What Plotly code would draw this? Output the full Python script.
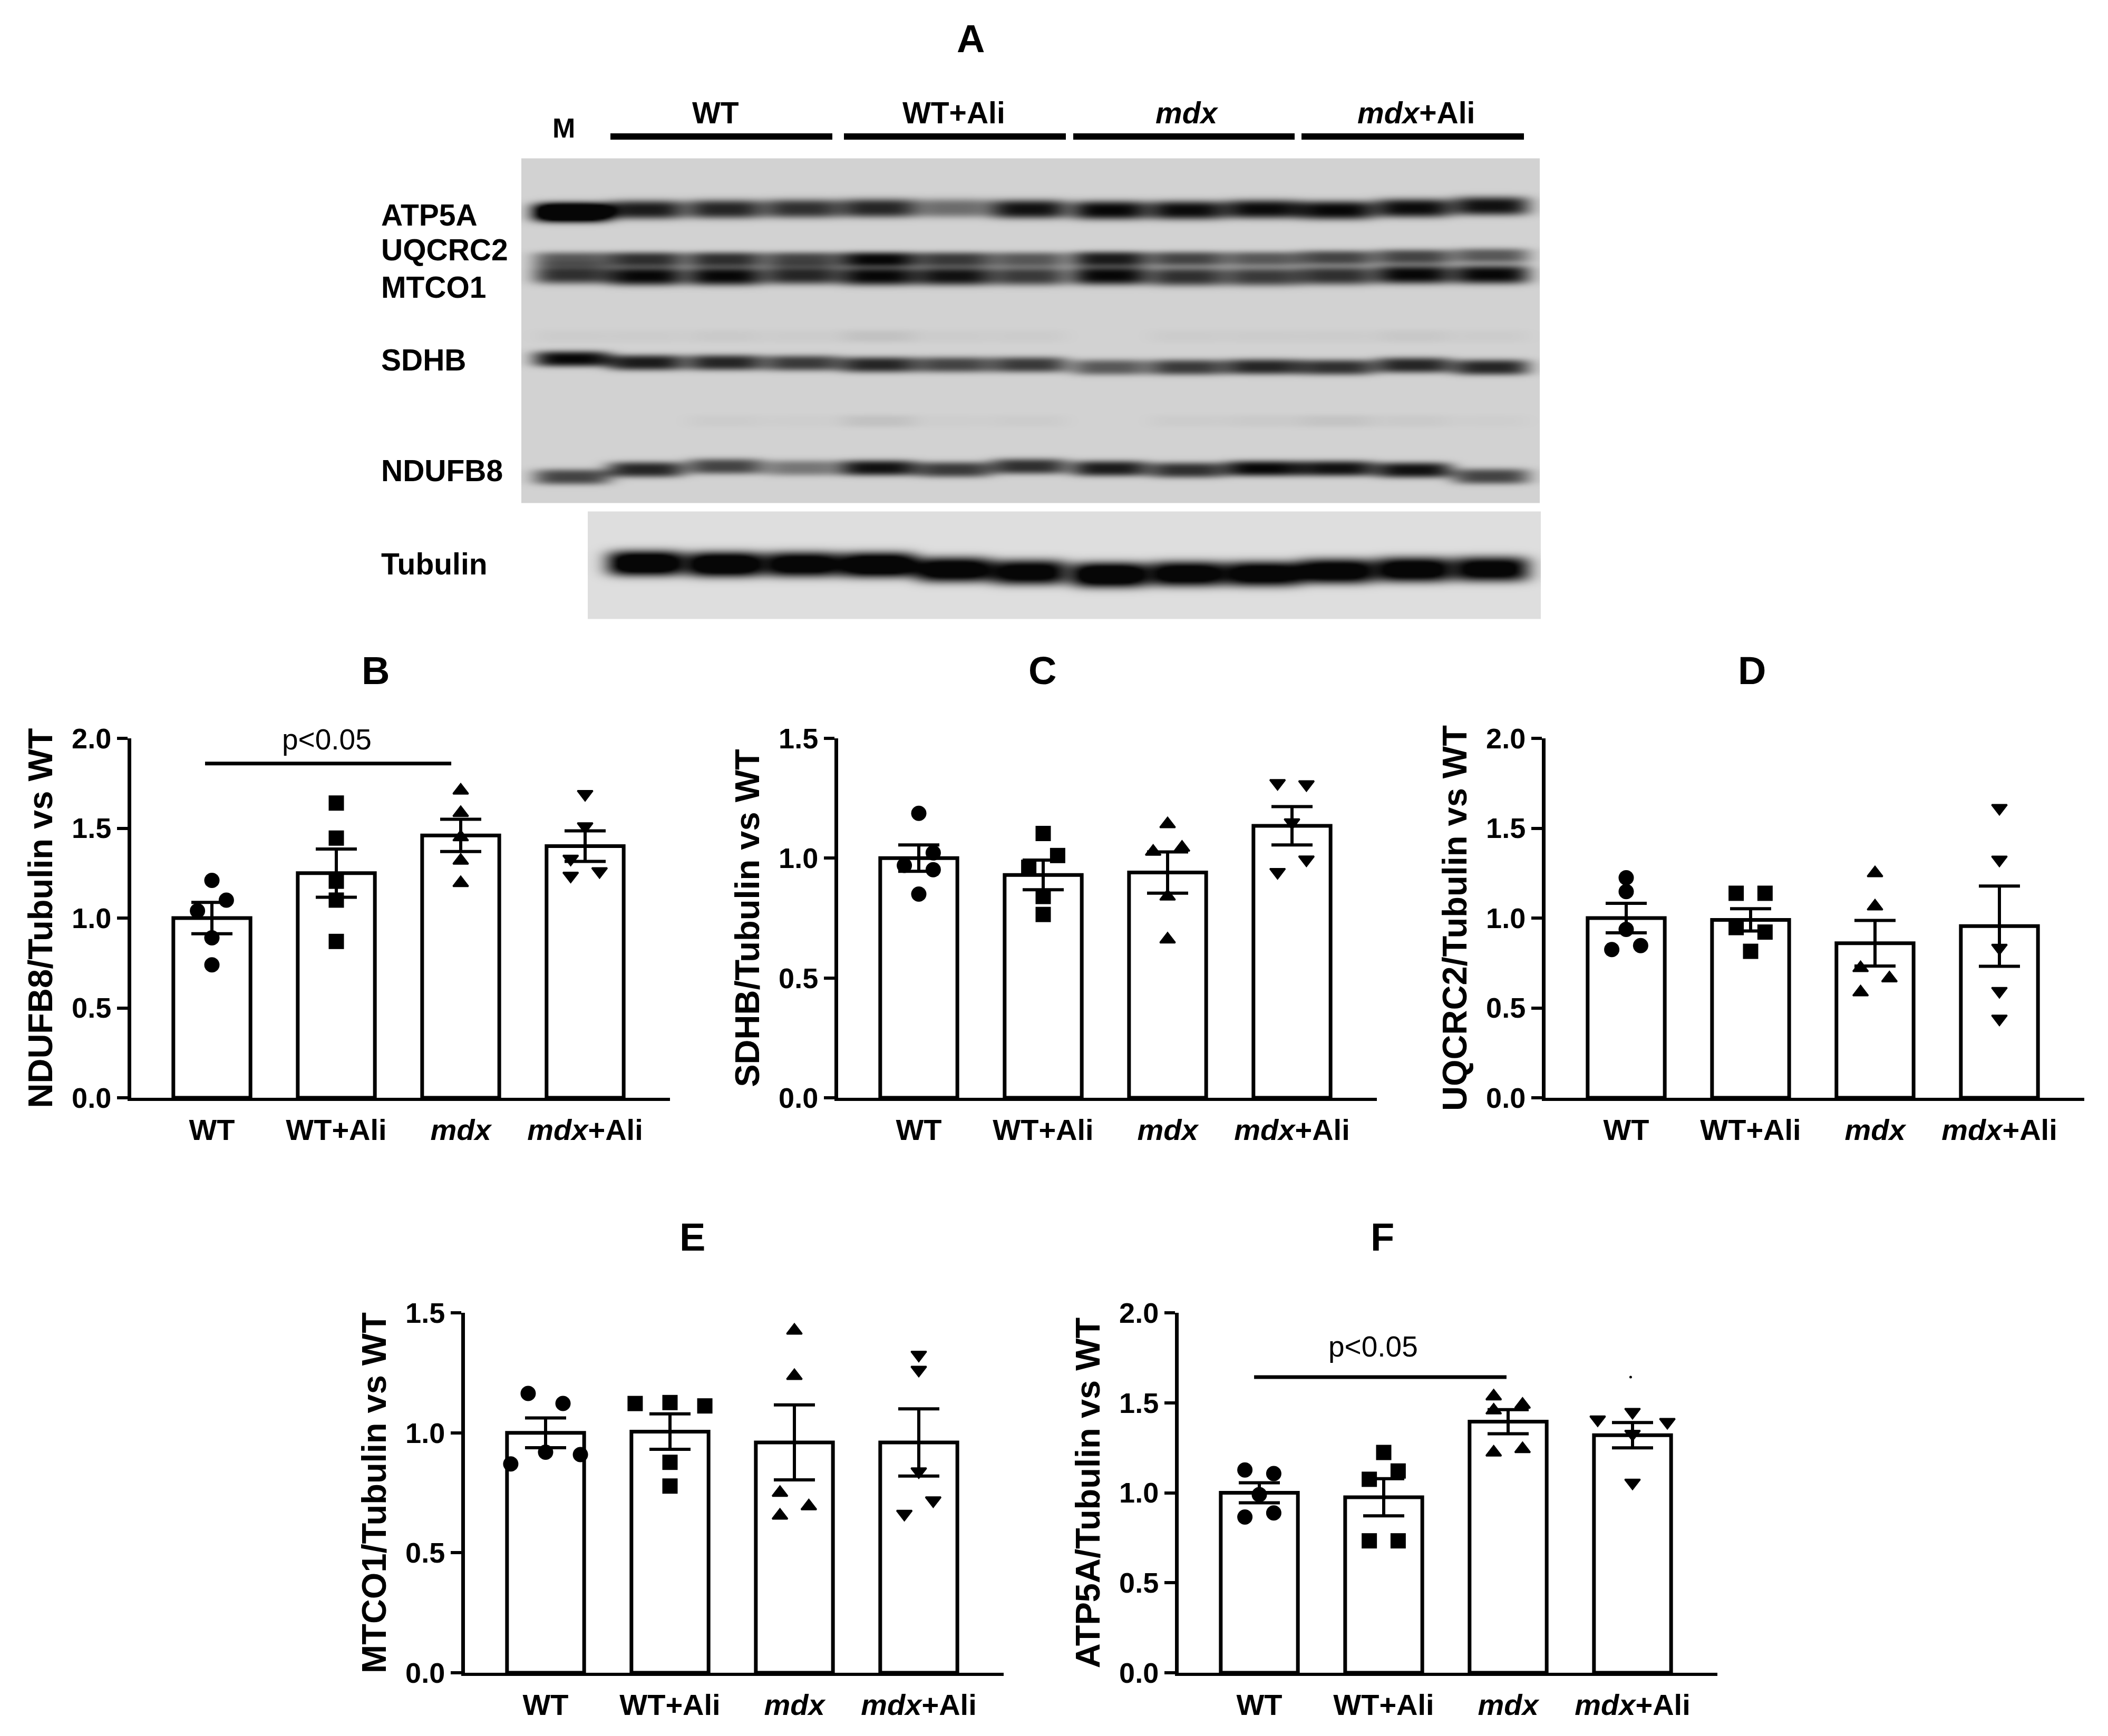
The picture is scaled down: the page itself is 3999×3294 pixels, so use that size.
import numpy as np
import plotly.graph_objects as go

W, H = 3999, 3294
FONT = "Liberation Sans"

# === Values ===
groups = ["WT", "WT+Ali", "<i>mdx</i>", "<i>mdx</i>+Ali"]
symbols = ["circle", "square", "triangle-up", "triangle-down"]

ndufb8_means = [1.0, 1.25, 1.46, 1.40]
ndufb8_sem = [0.087, 0.134, 0.09, 0.085]
ndufb8_points = [[1.21, 1.10, 1.04, 0.89, 0.74], [1.64, 1.445, 1.205, 1.10, 0.87],
                 [1.71, 1.585, 1.45, 1.32, 1.195], [1.69, 1.51, 1.33, 1.235, 1.26]]
ndufb8_offsets = [[0, 0.116, -0.116, 0, 0], [0, 0, 0, 0, 0],
                  [0, 0, 0, 0, 0], [0, 0, -0.116, -0.116, 0.116]]

sdhb_means = [1.0, 0.93, 0.94, 1.135]
sdhb_sem = [0.055, 0.062, 0.086, 0.08]
sdhb_points = [[1.187, 1.022, 0.97, 0.952, 0.85], [1.103, 1.011, 0.962, 0.84, 0.765],
               [1.142, 1.027, 1.044, 0.84, 0.661], [1.313, 1.308, 1.149, 0.994, 0.942]]
sdhb_offsets = [[0, 0.116, -0.116, 0.116, 0], [0, 0.116, -0.116, 0, 0],
                [0, -0.116, 0.116, 0, 0], [-0.116, 0.116, 0, 0.116, -0.116]]

uqcrc2_means = [1.0, 0.99, 0.86, 0.955]
uqcrc2_sem = [0.082, 0.062, 0.127, 0.223]
uqcrc2_points = [[1.224, 1.147, 0.937, 0.825, 0.847], [1.138, 1.138, 0.947, 0.922, 0.815],
                 [1.25, 1.065, 0.722, 0.665, 0.587], [1.612, 1.325, 0.834, 0.594, 0.44]]
uqcrc2_offsets = [[0, 0, 0, -0.116, 0.116], [-0.116, 0.116, -0.116, 0.116, 0],
                  [0, 0, -0.116, 0.116, -0.116], [0, 0, 0, 0, 0]]

mtco1_means = [1.0, 1.005, 0.96, 0.96]
mtco1_sem = [0.062, 0.074, 0.156, 0.14]
mtco1_points = [[1.164, 1.122, 0.919, 0.909, 0.87], [1.122, 1.126, 1.112, 0.877, 0.778],
                [1.426, 1.237, 0.75, 0.694, 0.655], [1.325, 1.262, 0.839, 0.718, 0.662]]
mtco1_offsets = [[-0.14, 0.14, 0, 0.28, -0.28], [-0.28, 0, 0.28, 0, 0],
                 [0, 0, -0.116, 0.116, -0.116], [0, 0, 0, 0.116, -0.116]]

atp5a_means = [1.0, 0.975, 1.395, 1.32]
atp5a_sem = [0.056, 0.103, 0.067, 0.07]
atp5a_points = [[1.127, 1.107, 0.99, 0.888, 0.865], [1.224, 1.121, 1.075, 0.733, 0.733],
                [1.536, 1.49, 1.458, 1.224, 1.243], [1.449, 1.407, 1.393, 1.327, 1.056]]
atp5a_offsets = [[-0.116, 0.116, 0, 0.116, -0.116], [0, 0.116, -0.116, -0.116, 0.116],
                 [-0.116, 0.116, -0.116, -0.116, 0.116], [0, -0.28, 0.28, 0, 0]]

# === Blot: band strength per lane (0 = nothing, 1 = black), marker lane first ===
atp5a_band = [1.7, .9, .85, .8, .85, .5, .95, 1.0, .98, .98, 1.0, .98, .95]
atp5a_rows = [402, 397, 396, 395, 394, 394, 396, 398, 398, 396, 398, 394, 390]
uqcrc2_band = [.6, .8, .8, .7, 1.0, .75, .6, .9, .7, .6, .7, .7, .6]
uqcrc2_rows = [491, 491, 491, 491, 491, 491, 491, 490, 490, 490, 488, 486, 484]
mtco1_band = [.8, 1.0, 1.0, .85, 1.0, .95, .75, 1.0, .8, .75, .8, 1.0, 1.0]
mtco1_rows = [520, 523, 523, 521, 523, 523, 523, 522, 524, 524, 522, 520, 520]
sdhb_band = [1.0, .9, .85, .75, .85, .7, .75, .6, .75, .85, .8, .85, .85]
sdhb_rows = [680, 687, 687, 688, 691, 691, 691, 696, 696, 695, 696, 692, 696]
ndufb8_band = [.7, .85, .7, .45, .95, .75, .8, .9, .8, 1.0, .95, .95, .7]
ndufb8_rows = [904, 890, 884, 887, 887, 890, 884, 888, 891, 888, 888, 891, 903]
sdhb_faint = [.03, .03, .04, .03, .08, .03, .03, 0, .03, .03, .03, .05, .03]
sdhb_faint_rows = [637] * 13
ndufb8_faint = [0, 0, .03, .02, .08, .02, .03, 0, .03, .04, .07, .04, .02]
ndufb8_faint_rows = [798] * 13
tubulin_band = [1.3, 1.3, 1.2, 1.3, 1.2, 1.15, 1.3, 1.2, 1.2, 1.2, 1.2, 1.15]
tubulin_rows = [1068, 1070, 1070, 1071, 1080, 1085, 1090, 1088, 1088, 1083, 1080, 1079]
lane_centres = [1085, 1225, 1375, 1522, 1666, 1809, 1952, 2105, 2252, 2396, 2535, 2681, 2828]


def px(x):
    return x / W


def py(y):
    return 1 - y / H


def blot_panel(x0, x1, y0, y1, background, bands):
    xs = np.arange(x0, x1 + 1, 4)
    ys = np.arange(y0, y1 + 1, 3)
    gx, gy = np.meshgrid(xs, ys)
    dark = np.zeros(gx.shape)
    for strength, rows, centres, spread in bands:
        for s, r, c in zip(strength, rows, centres):
            dark += s * np.exp(-((gx - c) / 74.0) ** 4) * np.exp(-np.abs((gy - r) / spread) ** 3)
    return xs, ys, background * (1 - np.clip(dark, 0, 1)) + 6


fig = go.Figure()

# === Western blot ===
main_bands = [(atp5a_band, atp5a_rows, lane_centres, 18),
              (uqcrc2_band, uqcrc2_rows, lane_centres, 14),
              (mtco1_band, mtco1_rows, lane_centres, 18),
              (sdhb_band, sdhb_rows, lane_centres, 15),
              (ndufb8_band, ndufb8_rows, lane_centres, 15),
              (sdhb_faint, sdhb_faint_rows, lane_centres, 12),
              (ndufb8_faint, ndufb8_faint_rows, lane_centres, 12)]
tubulin_bands = [(tubulin_band, tubulin_rows, lane_centres[1:], 24)]
for x0, y0, y1, bg, bands in [(991, 302, 954, 204, main_bands), (1117, 972, 1173, 216, tubulin_bands)]:
    xs, ys, z = blot_panel(x0, 2921, y0, y1, bg, bands)
    fig.add_trace(go.Heatmap(x=xs, y=ys, z=z, colorscale=[[0, "rgb(0,0,0)"], [1, "rgb(255,255,255)"]],
                             zmin=0, zmax=255, showscale=False, zsmooth="best", xaxis="x6", yaxis="y6",
                             hoverinfo="skip"))

# === Bar panels ===
panels = [("", 245, 1401, 2083, 2.0, "NDUFB8/Tubulin vs WT", ndufb8_means, ndufb8_sem, ndufb8_points, ndufb8_offsets),
          ("2", 1586, 1401, 2083, 1.5, "SDHB/Tubulin vs WT", sdhb_means, sdhb_sem, sdhb_points, sdhb_offsets),
          ("3", 2928, 1401, 2083, 2.0, "UQCRC2/Tubulin vs WT", uqcrc2_means, uqcrc2_sem, uqcrc2_points, uqcrc2_offsets),
          ("4", 878, 2491, 3174, 1.5, "MTCO1/Tubulin vs WT", mtco1_means, mtco1_sem, mtco1_points, mtco1_offsets),
          ("5", 2232, 2491, 3174, 2.0, "ATP5A/Tubulin vs WT", atp5a_means, atp5a_sem, atp5a_points, atp5a_offsets)]

SPACING = 236
layout_axes = {}
for suffix, left, top, bottom, ymax, ytitle, means, sem, points, offsets in panels:
    fig.add_trace(go.Bar(x=[0, 1, 2, 3], y=means, width=0.62,
                         marker=dict(color="white", line=dict(color="black", width=7)),
                         error_y=dict(type="data", array=sem, color="black", thickness=6, width=39),
                         xaxis="x" + suffix, yaxis="y" + suffix))
    for i, vals in enumerate(points):
        is_tri = symbols[i].startswith("triangle")
        fig.add_trace(go.Scatter(x=[i + d for d in offsets[i]], y=vals, mode="markers", cliponaxis=False,
                                 marker=dict(symbol=symbols[i], color="black", size=25 if is_tri else 29,
                                             line=dict(color="black", width=3 if is_tri else 0)),
                                 xaxis="x" + suffix, yaxis="y" + suffix))
    # plotly draws the y axis line just outside the domain, so the domain starts a little to the right
    layout_axes["xaxis" + suffix] = dict(
        domain=[px(left + 4), px(left + 1026)], range=[-153 / SPACING, 869 / SPACING], automargin=False,
        anchor="y" + suffix, tickvals=[0, 1, 2, 3], ticktext=groups, ticks="", showgrid=False,
        zeroline=False, showline=True, linecolor="black", linewidth=6, ticklabelstandoff=7,
        tickfont=dict(family=FONT, size=56, color="black", weight="bold"))
    layout_axes["yaxis" + suffix] = dict(
        domain=[py(bottom), py(top)], range=[0, ymax], dtick=0.5, tickformat=".1f", automargin=False,
        anchor="x" + suffix, ticks="outside", ticklen=20, tickwidth=6, tickcolor="black",
        showgrid=False, zeroline=False, showline=True, linecolor="black", linewidth=7,
        tickfont=dict(family=FONT, size=54, color="black", weight="bold"),
        title=dict(text=ytitle, standoff=18, font=dict(family=FONT, size=65, color="black", weight="bold")))

# significance bars and the stray speck of panel F
fig.add_trace(go.Scatter(x=[-0.055, 1.924], y=[1.86, 1.86], mode="lines",
                         line=dict(color="black", width=7)))
fig.add_trace(go.Scatter(x=[-0.042, 1.987], y=[1.643, 1.643], mode="lines",
                         line=dict(color="black", width=7), xaxis="x5", yaxis="y5"))
fig.add_trace(go.Scatter(x=[2.985], y=[1.643], mode="markers", marker=dict(color="black", size=5),
                         xaxis="x5", yaxis="y5"))

annotations = []


def label(text, x, y, size, bold=True, anchor="center"):
    annotations.append(dict(text=text, x=px(x), y=py(y), xref="paper", yref="paper", showarrow=False,
                            xanchor=anchor, yanchor="middle",
                            font=dict(family=FONT, size=size, color="black",
                                      weight="bold" if bold else "normal")))


for letter, x, y in [("A", 1841, 74), ("B", 712, 1272), ("C", 1977, 1272), ("D", 3323, 1272),
                     ("E", 1313, 2347), ("F", 2622, 2347)]:
    label(letter, x, y, 74)

label("M", 1069, 243, 52)
for text, x in [("WT", 1357), ("WT+Ali", 1809), ("<i>mdx</i>", 2252), ("<i>mdx</i>+Ali", 2686)]:
    label(text, x, 214, 57)
for text, y in [("ATP5A", 408), ("UQCRC2", 474), ("MTCO1", 545), ("SDHB", 683), ("NDUFB8", 893), ("Tubulin", 1070)]:
    label(text, 721, y, 57, anchor="left")
label("p&lt;0.05", 620, 1403, 55, bold=False)
label("p&lt;0.05", 2605, 2555, 55, bold=False)

shapes = [dict(type="line", xref="paper", yref="paper", x0=px(a), x1=px(b), y0=py(259), y1=py(259),
               line=dict(color="black", width=12))
          for a, b in [(1158, 1579), (1601, 2022), (2036, 2456), (2469, 2891)]]

fig.update_layout(
    width=W, height=H, autosize=False, margin=dict(l=0, r=0, t=0, b=0),
    paper_bgcolor="white", plot_bgcolor="rgba(0,0,0,0)", showlegend=False,
    annotations=annotations, shapes=shapes,
    xaxis6=dict(domain=[0, 1], range=[0, W], visible=False, anchor="y6", automargin=False),
    yaxis6=dict(domain=[0, 1], range=[H, 0], visible=False, anchor="x6", automargin=False),
    **layout_axes,
)

fig.write_html("out.html", post_script="document.body.style.margin='0';",
               config=dict(displayModeBar=False))
